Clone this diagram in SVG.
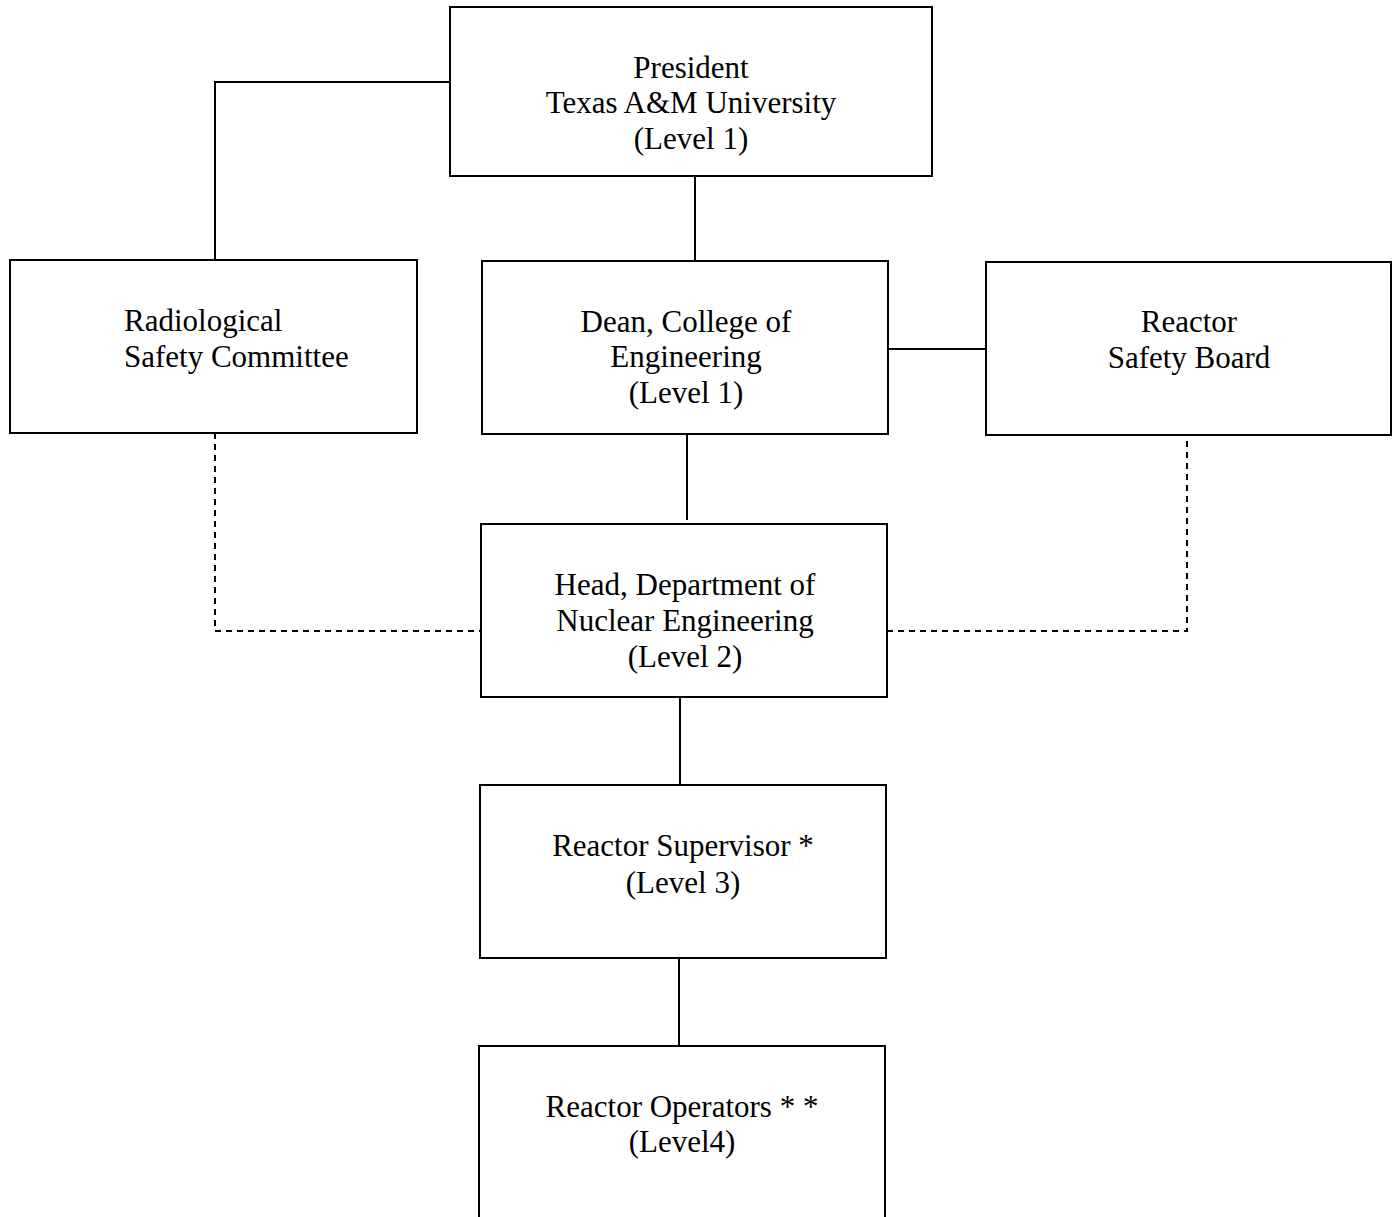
<svg xmlns="http://www.w3.org/2000/svg" width="1398" height="1217" viewBox="0 0 1398 1217">
<style>
.box{fill:#fff;stroke:#000;stroke-width:2}
.t{font-family:"Liberation Serif","Times New Roman",serif;font-size:31px;fill:#000}
.c{text-anchor:middle}
.ln{fill:none;stroke:#000;stroke-width:2}
.dash{fill:none;stroke:#000;stroke-width:2;stroke-dasharray:6,5}
</style>
<rect width="1398" height="1217" fill="#fff"/>
<g id="connectors">
<polyline class="ln" points="450,82 215,82 215,260"/>
<line class="ln" x1="695" y1="176" x2="695" y2="261"/>
<line class="ln" x1="888" y1="349" x2="986" y2="349"/>
<line class="ln" x1="687" y1="434" x2="687" y2="520"/>
<line class="ln" x1="680" y1="697" x2="680" y2="785"/>
<line class="ln" x1="679" y1="958" x2="679" y2="1046"/>
<polyline class="dash" points="215,433 215,631 481,631"/>
<polyline class="dash" points="887,631 1187,631 1187,435"/>
</g>
<g id="president">
<rect class="box" x="450" y="7" width="482" height="169"/>
<text class="t c" x="691" y="78">President</text>
<text class="t c" x="691" y="113">Texas A&amp;M University</text>
<text class="t c" x="691" y="149">(Level 1)</text>
</g>
<g id="radiological">
<rect class="box" x="10" y="260" width="407" height="173"/>
<text class="t" x="124" y="331">Radiological</text>
<text class="t" x="124" y="367">Safety Committee</text>
</g>
<g id="dean">
<rect class="box" x="482" y="261" width="406" height="173"/>
<text class="t c" x="686" y="332">Dean, College of</text>
<text class="t c" x="686" y="367">Engineering</text>
<text class="t c" x="686" y="403">(Level 1)</text>
</g>
<g id="rsb">
<rect class="box" x="986" y="262" width="405" height="173"/>
<text class="t c" x="1189" y="332">Reactor</text>
<text class="t c" x="1189" y="368">Safety Board</text>
</g>
<g id="head">
<rect class="box" x="481" y="524" width="406" height="173"/>
<text class="t c" x="685" y="595">Head, Department of</text>
<text class="t c" x="685" y="631">Nuclear Engineering</text>
<text class="t c" x="685" y="667">(Level 2)</text>
</g>
<g id="supervisor">
<rect class="box" x="480" y="785" width="406" height="173"/>
<text class="t c" x="683" y="856">Reactor Supervisor *</text>
<text class="t c" x="683" y="893">(Level 3)</text>
</g>
<g id="operators">
<path class="ln" d="M479,1217 V1046 H885 V1217"/>
<text class="t c" x="682" y="1117">Reactor Operators * *</text>
<text class="t c" x="682" y="1152">(Level4)</text>
</g>
</svg>
